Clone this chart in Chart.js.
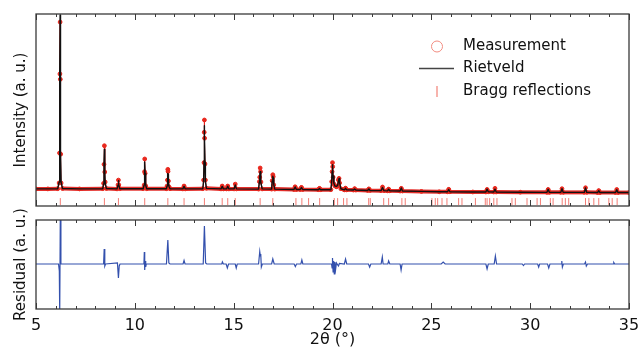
<!DOCTYPE html>
<html>
<head>
<meta charset="utf-8">
<script src="https://cdn.jsdelivr.net/npm/chart.js@4.4.1/dist/chart.umd.min.js"></script>
<style>
  html, body { margin: 0; padding: 0; background: #fff; }
  #wrap { position: relative; width: 640px; height: 350px; }
  #wrap canvas { position: absolute; left: 0; }
  #top { top: 0; }
  #bottom { top: 195px; }
</style>
</head>
<body>
<div id="wrap">
  <canvas id="top" width="640" height="212"></canvas>
  <canvas id="bottom" width="640" height="155"></canvas>
</div>
<script>
// 2theta grid (deg) with observed and calculated intensity (a.u.)
const twoTheta = [
  5.00, 5.60, 6.10, 6.17, 6.19, 6.21, 6.22, 6.23, 6.25, 6.27, 6.34, 7.20,
  8.38, 8.42, 8.44, 8.46, 8.48, 8.50, 8.56,
  9.10, 9.15, 9.17, 9.19, 9.24,
  10.42, 10.47, 10.49, 10.50, 10.52, 10.55, 10.60,
  11.60, 11.63, 11.65, 11.67, 11.68, 11.70, 11.73, 11.78,
  12.43, 12.49, 12.55,
  13.44, 13.48, 13.50, 13.51, 13.52, 13.53, 13.55, 13.57, 13.62,
  14.36, 14.42, 14.48, 14.64, 14.70, 14.76, 15.02, 15.08, 15.14,
  16.26, 16.30, 16.32, 16.34, 16.36, 16.38, 16.44,
  16.92, 16.95, 16.98, 17.00, 17.03, 17.08,
  18.05, 18.11, 18.17, 18.37, 18.43, 18.49, 19.28, 19.34, 19.40,
  19.92, 19.96, 19.98, 20.00, 20.01, 20.03, 20.07, 20.12, 20.20, 20.26, 20.30, 20.33, 20.36, 20.42,
  20.60, 20.66, 20.72, 21.06, 21.12, 21.18, 21.78, 21.84, 21.90,
  22.46, 22.53, 22.60, 22.78, 22.84, 22.90, 23.42, 23.48, 23.54,
  24.50, 25.40, 25.82, 25.88, 25.94, 27.10, 27.76, 27.82, 27.88, 28.16, 28.22, 28.28,
  29.50, 30.85, 30.91, 30.97, 31.55, 31.61, 31.67, 32.74, 32.80, 32.86,
  33.41, 33.47, 33.53, 34.32, 34.38, 34.44, 35.00
];
const measured = [
  8.9, 8.9, 9.0, 12.0, 27.6, 68.8, 95.8, 66.0, 27.0, 12.0, 9.1, 8.9,
  9.0, 11.8, 21.7, 31.4, 17.7, 12.5, 9.1,
  8.9, 11.0, 13.5, 11.0, 9.0,
  9.0, 10.9, 17.9, 24.5, 17.0, 10.5, 9.0,
  9.0, 10.4, 13.5, 19.1, 18.0, 13.0, 10.0, 9.0,
  8.9, 10.4, 8.9,
  9.0, 13.5, 22.6, 38.4, 44.8, 35.3, 21.9, 13.5, 9.2,
  8.9, 10.4, 8.9, 8.9, 10.4, 8.9, 8.9, 11.4, 8.9,
  8.8, 12.7, 15.0, 19.8, 17.9, 12.5, 8.9,
  8.8, 13.2, 16.3, 15.3, 11.0, 8.8,
  8.6, 10.0, 8.6, 8.6, 9.7, 8.6, 8.5, 9.2, 8.5,
  8.5, 12.7, 17.9, 22.6, 20.5, 15.0, 11.5, 10.5, 10.0, 10.5, 13.5, 14.4, 12.0, 9.0,
  8.4, 9.3, 8.4, 8.3, 9.0, 8.3, 8.1, 8.9, 8.1,
  8.0, 9.9, 8.0, 7.9, 8.8, 7.9, 7.8, 9.2, 7.8,
  7.6, 7.4, 7.4, 8.7, 7.4, 7.3, 7.3, 8.6, 7.4, 7.3, 9.2, 7.3,
  7.2, 7.1, 8.6, 7.1, 7.1, 9.0, 7.1, 7.1, 9.5, 7.1,
  7.0, 8.0, 7.0, 7.0, 8.6, 7.0, 7.0
];
const rietveld = [
  8.9, 8.9, 9.0, 12.5, 28.0, 70.0, 99.5, 68.0, 28.0, 12.5, 9.1, 8.9,
  9.0, 11.5, 22.0, 29.5, 18.0, 12.0, 9.1,
  8.9, 11.0, 13.2, 11.2, 9.0,
  9.0, 11.0, 18.5, 23.0, 17.0, 10.8, 9.0,
  9.0, 10.5, 13.0, 17.0, 16.5, 12.5, 10.2, 9.0,
  8.9, 10.2, 8.9,
  9.0, 13.0, 23.5, 38.0, 41.8, 36.5, 22.5, 13.0, 9.2,
  8.9, 10.2, 8.9, 8.9, 10.3, 8.9, 8.9, 11.0, 8.9,
  8.8, 12.5, 15.5, 17.9, 16.5, 12.5, 8.9,
  8.8, 13.0, 15.5, 14.5, 11.0, 8.8,
  8.6, 9.9, 8.6, 8.6, 9.6, 8.6, 8.5, 9.1, 8.5,
  8.5, 13.0, 18.0, 21.5, 20.0, 15.5, 11.8, 10.4, 10.2, 10.8, 13.0, 14.3, 12.2, 9.0,
  8.4, 9.2, 8.4, 8.3, 8.9, 8.3, 8.1, 8.9, 8.1,
  8.0, 9.6, 8.0, 7.9, 8.7, 7.9, 7.8, 9.4, 7.8,
  7.6, 7.4, 7.4, 8.6, 7.4, 7.3, 7.3, 8.8, 7.4, 7.3, 8.8, 7.3,
  7.2, 7.1, 8.7, 7.1, 7.1, 9.0, 7.1, 7.1, 9.4, 7.1,
  7.0, 8.0, 7.0, 7.0, 8.5, 7.0, 7.0
];

// Bragg reflection positions (deg)
const braggPos = [
  6.23, 8.46, 9.17, 10.50, 11.67, 12.49, 13.52, 14.42, 14.70, 15.08,
  16.34, 16.98, 18.15, 18.45, 18.79, 19.35,
  20.09, 20.26, 20.56, 20.73, 21.83, 21.91, 22.59, 22.84, 23.51, 23.68,
  25.03, 25.20, 25.32, 25.54, 25.79, 26.38, 26.55, 27.23, 27.73, 27.82,
  27.95, 28.16, 28.32, 29.08, 29.25, 29.84, 30.35, 30.52, 31.02, 31.16,
  31.62, 31.78, 31.95, 32.80, 32.97, 33.22, 33.47, 33.98, 34.15, 34.40
];

// difference curve (obs - calc)
const resTheta = [
  5.00, 6.14, 6.18, 6.20, 6.23, 6.26,
  8.42, 8.45, 8.48, 8.52, 9.12, 9.17, 9.21, 9.25,
  10.46, 10.48, 10.50, 10.52, 10.55, 10.58, 11.60, 11.67, 11.72, 11.78,
  12.44, 12.49, 12.54, 13.46, 13.52, 13.58, 13.64,
  14.40, 14.43, 14.48, 14.62, 14.68, 14.74, 15.08, 15.13, 15.18,
  16.26, 16.32, 16.35, 16.37, 16.40, 16.45, 16.92, 16.98, 17.05,
  18.06, 18.12, 18.18, 18.40, 18.45, 18.50,
  19.95, 19.98, 20.00, 20.03, 20.06, 20.09, 20.12, 20.16, 20.20, 20.30, 20.35,
  20.60, 20.66, 20.72, 21.82, 21.88, 21.94, 22.46, 22.52, 22.56, 22.80, 22.84, 22.90,
  23.42, 23.47, 23.52, 25.50, 25.60, 25.70, 27.76, 27.82, 27.88, 28.18, 28.24, 28.30,
  29.60, 29.66, 29.72, 30.38, 30.43, 30.48, 30.88, 30.94, 31.00,
  31.57, 31.60, 31.63, 31.68, 32.75, 32.80, 32.84, 32.90, 34.20, 34.23, 34.28, 35.00
];
const residual = [
  0, 0, -7, -50, 50, 0,
  0, 15, -2, 0, 1, -14, -2, 0,
  0, 12, -6, 3, -3, 0, 0, 24, 1, 0,
  0, 3.5, 0, 0, 38, 1, 0,
  0, 2, 0, 0, -4, 0, 0, -4, 0,
  0, 12.5, 8, 10, -3, 0, 0, 5, 0,
  0, -2.5, 0, 0, 4, 0,
  0, -4, 6, -8, 3, -10, 2, -5, 1, -2, 0.5,
  0, 5, 0, 0, -3, 0, 0, 7, 0, 0, 3, 0,
  0, -6, 0, 0, 2, 0, 0, -5, 0, 0, 8, 0,
  0, -1.5, 0, 0, -3, 0, 0, -4, 0,
  0, 3, -3, 0, 0, 2, -2, 0, 0, 1.5, 0, 0
];

const xTicks = [5, 10, 15, 20, 25, 30, 35];

const FONT = 'DejaVu Sans';
const pts = (xs, ys) => xs.map((x, i) => ({ x, y: ys[i] }));
const fixTicks = s => { s.ticks = xTicks.map(v => ({ value: v })); };

// box round the plot area with inward ticks, like the original
const frame = {
  id: 'frame',
  afterDatasetsDraw(chart) {
    const { ctx, chartArea: a, scales: { x } } = chart;
    ctx.save();
    ctx.strokeStyle = '#3a3a3a';
    ctx.lineWidth = 1;
    ctx.beginPath();
    for (let v = 5; v <= 35; v++) {
      const px = Math.round(x.getPixelForValue(v)) + 0.5;
      const len = v % 5 === 0 ? 6 : 3;
      ctx.moveTo(px, a.top); ctx.lineTo(px, a.top + len);
      ctx.moveTo(px, a.bottom); ctx.lineTo(px, a.bottom - len);
    }
    ctx.stroke();
    ctx.lineWidth = 1.3;
    ctx.strokeRect(a.left, a.top, a.right - a.left, a.bottom - a.top);
    ctx.restore();
  }
};

// legend drawn inside the top panel
const legendInside = {
  id: 'legendInside',
  afterDraw(chart) {
    const ctx = chart.ctx;
    const ds = chart.data.datasets;
    const sx = 437, tx = 463;
    ctx.save();
    ctx.font = '15px "' + FONT + '"';
    ctx.fillStyle = '#111';
    ctx.textBaseline = 'middle';

    ctx.strokeStyle = '#f28c80';
    ctx.lineWidth = 1;
    ctx.beginPath();
    ctx.arc(sx, 46.5, 5.5, 0, Math.PI * 2);
    ctx.stroke();
    ctx.fillText(ds[1].label, tx, 46.5);

    ctx.strokeStyle = '#444';
    ctx.lineWidth = 1.5;
    ctx.beginPath();
    ctx.moveTo(419, 68.5); ctx.lineTo(454, 68.5);
    ctx.stroke();
    ctx.fillText(ds[0].label, tx, 68.5);

    ctx.strokeStyle = '#f28076';
    ctx.lineWidth = 1.2;
    ctx.beginPath();
    ctx.moveTo(sx, 86); ctx.lineTo(sx, 97);
    ctx.stroke();
    ctx.fillText(ds[2].label, tx, 91);
    ctx.restore();
  }
};

// the dense measured points form a band only where the curve is flat
const bandWidth = c => Math.abs(c.p1.parsed.y - c.p0.parsed.y) > 1.5 ? 1 : 4;

new Chart(document.getElementById('top'), {
  type: 'line',
  data: {
    datasets: [
      {
        label: 'Rietveld',
        data: pts(twoTheta, rietveld),
        borderColor: '#111',
        borderWidth: 1.4,
        borderJoinStyle: 'round',
        pointRadius: 0,
        order: 1
      },
      {
        label: 'Measurement',
        data: pts(twoTheta, measured),
        borderColor: 'rgba(226,28,24,0.92)',
        borderWidth: 4,
        borderJoinStyle: 'round',
        segment: { borderWidth: bandWidth },
        pointRadius: 1.9,
        pointBackgroundColor: '#e8281e',
        pointBorderColor: '#e8281e',
        pointBorderWidth: 1,
        order: 2
      },
      {
        label: 'Bragg reflections',
        data: braggPos.map(x => ({ x, y: 2.3 })),
        showLine: false,
        pointStyle: 'line',
        rotation: 90,
        pointRadius: 3.5,
        pointBorderColor: 'rgba(240,80,70,0.75)',
        pointBorderWidth: 1,
        order: 3
      }
    ]
  },
  options: {
    responsive: false,
    animation: false,
    events: [],
    layout: { padding: { top: 14, right: 11, bottom: 6, left: 0 } },
    plugins: { legend: { display: false }, tooltip: { enabled: false } },
    scales: {
      x: { type: 'linear', min: 5, max: 35, display: false },
      y: {
        min: 0, max: 100,
        ticks: { display: false },
        grid: { display: false },
        border: { display: false },
        title: {
          display: true, text: 'Intensity (a. u.)', color: '#111',
          font: { family: FONT, size: 15 }, padding: { top: 12, bottom: 0 }
        },
        afterFit: s => { s.width = 36; }
      }
    }
  },
  plugins: [frame, legendInside]
});

new Chart(document.getElementById('bottom'), {
  type: 'line',
  data: {
    datasets: [{
      label: 'Residual',
      data: pts(resTheta, residual),
      borderColor: '#3350ad',
      borderWidth: 1.2,
      pointRadius: 0
    }]
  },
  options: {
    responsive: false,
    animation: false,
    events: [],
    layout: { padding: { top: 25, right: 11, bottom: 0, left: 0 } },
    plugins: { legend: { display: false }, tooltip: { enabled: false } },
    scales: {
      x: {
        type: 'linear', min: 5, max: 35,
        afterBuildTicks: fixTicks,
        grid: { display: false },
        border: { display: false },
        ticks: { color: '#111', font: { family: FONT, size: 16 }, padding: -1, maxRotation: 0, autoSkip: false },
        title: {
          display: true, text: '2θ (°)', color: '#111',
          font: { family: FONT, size: 16 }, padding: { top: 0, bottom: 1 }
        },
        afterFit: s => { s.height = 41; }
      },
      y: {
        min: -45, max: 44,
        ticks: { display: false },
        grid: { display: false },
        border: { display: false },
        title: {
          display: true, text: 'Residual (a. u.)', color: '#111',
          font: { family: FONT, size: 15 }, padding: { top: 12, bottom: 0 }
        },
        afterFit: s => { s.width = 36; }
      }
    }
  },
  plugins: [frame]
});
</script>
</body>
</html>
